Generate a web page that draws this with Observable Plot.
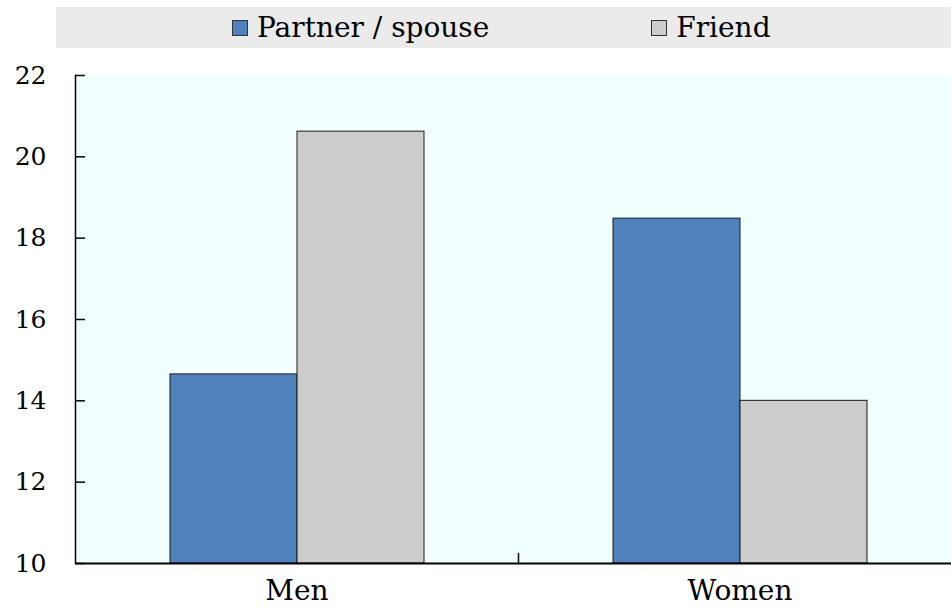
<!DOCTYPE html>
<html><head><meta charset="utf-8">
<script src="https://cdn.jsdelivr.net/npm/d3@7"></script>
<script src="https://cdn.jsdelivr.net/npm/@observablehq/plot@0.6"></script>
<style>
html,body{margin:0;padding:0;overflow:hidden;background:#fff;width:951px;height:607px;}
#wrap{position:relative;width:951px;height:607px;overflow:hidden;font-family:"DejaVu Serif",serif;}
#legend{position:absolute;left:56px;top:7px;width:895px;height:41px;background:#ebebeb;display:flex;align-items:center;padding-left:176px;box-sizing:border-box;font-size:28px;color:#000;gap:162px;}
.item{display:flex;align-items:center;white-space:nowrap;}
.sw{width:14px;height:14px;border:1px solid #333;margin-right:9px;}
#chart{position:absolute;left:0;top:49px;width:961px;}
</style></head><body>
<div id="wrap"><div id="legend"></div><div id="chart"></div></div>
<script>
const categories = ["Men", "Women"];
const series = ["Partner / spouse", "Friend"];
const partnerValues = [14.65, 18.48];
const friendValues = [20.62, 14.0];
const yTicks = [10, 12, 14, 16, 18, 20, 22];
const colors = ["#4f81bd", "#cccccc"];

const rows = [];
categories.forEach((c, i) => {
  rows.push({category: c, series: series[0], value: partnerValues[i]});
  rows.push({category: c, series: series[1], value: friendValues[i]});
});

const legend = document.getElementById("legend");
series.forEach((s, i) => {
  const item = document.createElement("div");
  item.className = "item";
  const sw = document.createElement("span");
  sw.className = "sw";
  sw.style.background = colors[i];
  const t = document.createElement("span");
  t.textContent = s;
  item.appendChild(sw); item.appendChild(t);
  legend.appendChild(item);
});

const yMin = yTicks[0], yMax = yTicks[yTicks.length - 1];

const plot = Plot.plot({
  width: 961, height: 558,
  marginLeft: 75, marginRight: 0, marginTop: 26, marginBottom: 44,
  style: {fontFamily: '"DejaVu Serif", serif', color: "#000", background: "transparent", overflow: "visible", maxWidth: "none"},
  fx: {domain: categories, padding: 0, label: null},
  x: {domain: series, paddingInner: 0, paddingOuter: 0.744, label: null, axis: null},
  y: {domain: [yMin, yMax], label: null},
  color: {domain: series, range: colors},
  marks: [
    Plot.frame({fill: "#f2ffff", stroke: null}),
    Plot.barY(rows, {fx: "category", x: "series", y1: yMin, y2: "value", fill: "series", stroke: "#1a1a1a", strokeWidth: 1, inset: 0}),
    Plot.ruleY([yMin], {stroke: "#000", strokeWidth: 2}),
    Plot.frame({anchor: "left", facetAnchor: "left", stroke: "#000", strokeWidth: 1.5}),
    Plot.frame({anchor: "left", facetAnchor: "right", insetTop: 478, stroke: "#000", strokeWidth: 1.5}),
    Plot.axisY(yTicks, {tickSize: -10, tickPadding: 39, fontSize: 25, stroke: "#000", strokeWidth: 1.5, label: null}),
    Plot.axisFx({anchor: "bottom", tickSize: 0, tickPadding: 17, fontSize: 28, label: null})
  ]
});
document.getElementById("chart").appendChild(plot);
</script>
</body></html>
